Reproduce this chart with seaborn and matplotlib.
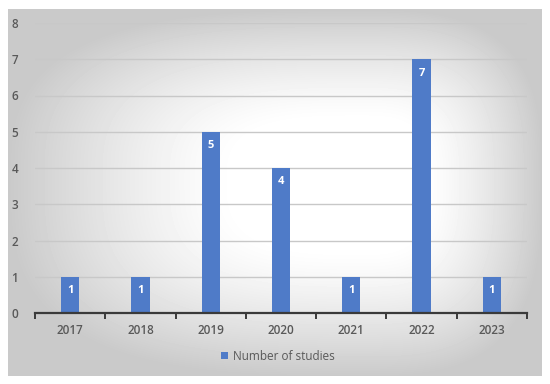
import numpy as np
import pandas as pd
import matplotlib
matplotlib.use("Agg")
import matplotlib.pyplot as plt
import seaborn as sns

# chart data
years = ["2017", "2018", "2019", "2020", "2021", "2022", "2023"]
studies = [1, 1, 5, 4, 1, 7, 1]
series_name = "Number of studies"

bar_color = "#4f7bc8"
text_color = "#595959"

sns.set_theme(style="white")
plt.rcParams["font.family"] = ["Open Sans", "DejaVu Sans"]

W, H = 550, 384
fig = plt.figure(figsize=(W / 100, H / 100), dpi=100)
fig.patch.set_facecolor("white")

# gradient background box (Excel-like "from center" fill)
bx0, by0, bx1, by1 = 8, 9, 542, 376
bg = fig.add_axes([bx0 / W, 1 - by1 / H, (bx1 - bx0) / W, (by1 - by0) / H])
bg.set_zorder(0)
xx, yy = np.meshgrid(np.arange(bx0, bx1), np.arange(by0, by1))
cx, cy = 360, 180
nx = np.where(xx < cx, (cx - xx) / (cx - bx0), (xx - cx) / (bx1 - cx))
ny = np.where(yy < cy, (cy - yy) / (cy - by0), (yy - cy) / (by1 - cy))
t = (nx ** 3 + ny ** 3) ** (1 / 3)
s = np.clip((t - 0.35) / 0.65, 0, 1)
s = s ** 1.3
shade = 1 - 0.21 * s
bg.imshow(shade, cmap="gray", vmin=0, vmax=1, aspect="auto", interpolation="bilinear")
bg.axis("off")

# main plot
ax = fig.add_axes([35 / W, (H - 313) / H, 492 / W, 290 / H])
ax.set_zorder(1)
ax.patch.set_alpha(0)

df = pd.DataFrame({"year": years, "count": studies})
sns.barplot(data=df, x="year", y="count", color=bar_color, width=0.26,
            saturation=1, linewidth=0, label=series_name, ax=ax, zorder=3)

ax.set_ylim(0, 8)
ax.set_xlim(-0.5, len(years) - 0.5)
ax.set_yticks(range(0, 9))
ax.yaxis.grid(True, color="#c8c8c8", linewidth=1.0, zorder=0)
ax.set_axisbelow(True)
for side in ["top", "right", "left"]:
    ax.spines[side].set_visible(False)
ax.spines["bottom"].set_color("#3a3a3a")
ax.spines["bottom"].set_linewidth(1.6)
ax.spines["bottom"].set_zorder(4)

ax.set_xlabel("")
ax.set_ylabel("")
ax.tick_params(axis="y", length=0, pad=12, labelsize=8.5, labelcolor=text_color)
ax.tick_params(axis="x", which="major", length=0, pad=8, labelsize=8.5,
               labelcolor=text_color)
ax.set_xticks(np.arange(-0.5, len(years)), minor=True)
ax.tick_params(axis="x", which="minor", bottom=True, length=4, width=1.4,
               color="#3a3a3a", direction="out")
for lbl in ax.get_xticklabels() + ax.get_yticklabels():
    lbl.set_fontweight("semibold")

# data labels inside bars
for i, v in enumerate(studies):
    ax.text(i, v - 0.38, str(v), ha="center", va="center", color="white",
            fontsize=8, fontweight="bold", zorder=5)

leg = ax.legend(loc="center", bbox_to_anchor=(0.505, 1 - 356 / H),
                bbox_transform=fig.transFigure, frameon=False, fontsize=8.5,
                handlelength=0.6, handleheight=0.6, handletextpad=0.4)
for txt in leg.get_texts():
    txt.set_color(text_color)

fig.savefig("out.png", dpi=100)
